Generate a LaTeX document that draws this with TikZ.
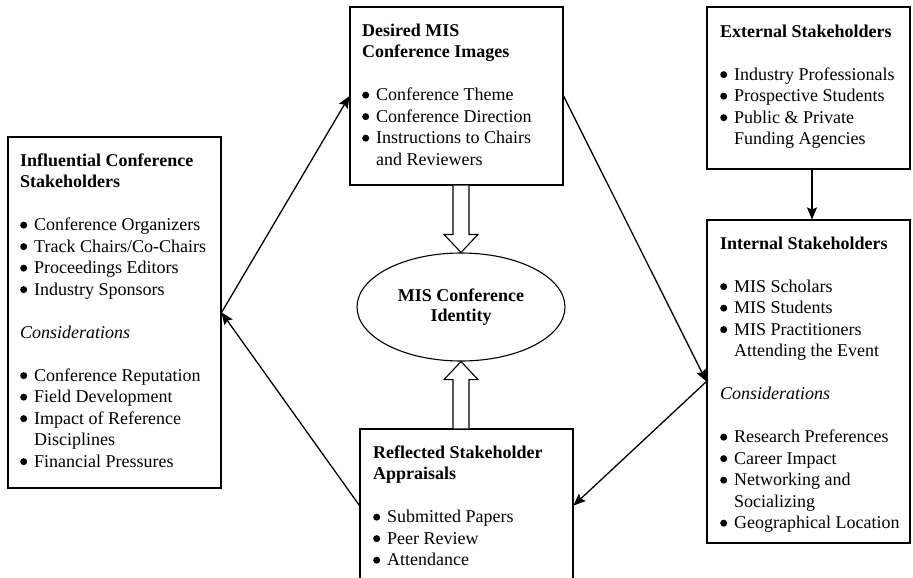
\documentclass[tikz,border=0pt]{standalone}
\usepackage{fontspec}
\setmainfont{Liberation Serif}
\usetikzlibrary{shapes.geometric,arrows.meta,calc}
\newcommand{\bl}{\makebox[10pt][l]{\tikz[baseline=0pt]{\fill (3.6pt,5.6pt) circle (3.5pt);}}}
\tikzset{
  box/.style={draw, line width=1.1pt, minimum width=#1, inner sep=0pt},
  txt/.style={anchor=north west, inner sep=0pt, font=\fontsize{18}{21.5}\selectfont},
  conn/.style={line width=1.3pt, -{Stealth[length=12pt,width=10pt,inset=2pt]}},
  hollow/.style={draw, line width=1.1pt, fill=white, line join=miter}
}
\begin{document}
\begin{tikzpicture}[x=1pt,y=-1pt]
\clip (0,0) rectangle (913,578);
\fill[white] (0,0) rectangle (913,578);
% boxes
\node[box=213pt, minimum height=351pt] (infl) at (114.5,312.5) {};
\node[box=213pt, minimum height=178pt] (des) at (456.5,96) {};
\node[box=203pt, minimum height=162pt] (ext) at (808.5,88) {};
\node[box=203pt, minimum height=323pt] (int) at (808.5,381.5) {};
\node[box=213pt, minimum height=153pt] (ref) at (466.5,505.5) {};
\node[draw, line width=1.1pt, ellipse, minimum width=208pt, minimum height=108pt, inner sep=0pt,
      align=center, font=\fontsize{18}{20.5}\selectfont\bfseries] (ell) at (461,307) {MIS Conference\\Identity};
% texts
\node[txt] (inflt) at (20,151) {\begin{tabular}[t]{@{}l@{\hspace{4pt}}l@{}}
\multicolumn{2}{@{}l@{}}{\bfseries Influential Conference}\\
\multicolumn{2}{@{}l@{}}{\bfseries Stakeholders}\\
 & \\
\bl & Conference Organizers\\
\bl & Track Chairs/Co-Chairs\\
\bl & Proceedings Editors\\
\bl & Industry Sponsors\\
 & \\
\multicolumn{2}{@{}l@{}}{\itshape Considerations}\\
 & \\
\bl & Conference Reputation\\
\bl & Field Development\\
\bl & Impact of Reference\\
 & Disciplines\\
\bl & Financial Pressures
\end{tabular}};
\node[txt] (dest) at (362,21) {\begin{tabular}[t]{@{}l@{\hspace{4pt}}l@{}}
\multicolumn{2}{@{}l@{}}{\bfseries Desired MIS}\\
\multicolumn{2}{@{}l@{}}{\bfseries Conference Images}\\
 & \\
\bl & Conference Theme\\
\bl & Conference Direction\\
\bl & Instructions to Chairs\\
 & and Reviewers
\end{tabular}};
\node[txt] (extt) at (720,22) {\begin{tabular}[t]{@{}l@{\hspace{4pt}}l@{}}
\multicolumn{2}{@{}l@{}}{\bfseries External Stakeholders}\\
 & \\
\bl & Industry Professionals\\
\bl & Prospective Students\\
\bl & Public \& Private\\
 & Funding Agencies
\end{tabular}};
\node[txt] (intt) at (720,234) {\begin{tabular}[t]{@{}l@{\hspace{4pt}}l@{}}
\multicolumn{2}{@{}l@{}}{\bfseries Internal Stakeholders}\\
 & \\
\bl & MIS Scholars\\
\bl & MIS Students\\
\bl & MIS Practitioners\\
 & Attending the Event\\
 & \\
\multicolumn{2}{@{}l@{}}{\itshape Considerations}\\
 & \\
\bl & Research Preferences\\
\bl & Career Impact\\
\bl & Networking and\\
 & Socializing\\
\bl & Geographical Location
\end{tabular}};
\node[txt] (reft) at (373,443) {\begin{tabular}[t]{@{}l@{\hspace{4pt}}l@{}}
\multicolumn{2}{@{}l@{}}{\bfseries Reflected Stakeholder}\\
\multicolumn{2}{@{}l@{}}{\bfseries Appraisals}\\
 & \\
\bl & Submitted Papers\\
\bl & Peer Review\\
\bl & Attendance
\end{tabular}};
% connectors
\draw[conn] (infl.east) -- (des.west);
\draw[conn] (des.east) -- (int.west);
\draw[conn] (int.west) -- (ref.east);
\draw[conn] (ref.west) -- (infl.east);
\draw[conn] (ext.south -| 812,0) -- (int.north -| 812,0);
% hollow arrows
\coordinate (ta) at (ell.north);
\coordinate (tb) at (ell.south);
\draw[hollow] ($(ta |- des.south)+(-8,0)$) -- ($(ta)+(-8,-18)$) -- ($(ta)+(-17,-18)$) -- (ta)
  -- ($(ta)+(17,-18)$) -- ($(ta)+(8,-18)$) -- ($(ta |- des.south)+(8,0)$);
\draw[hollow] ($(tb |- ref.north)+(-8,0)$) -- ($(tb)+(-8,18)$) -- ($(tb)+(-17,18)$) -- (tb)
  -- ($(tb)+(17,18)$) -- ($(tb)+(8,18)$) -- ($(tb |- ref.north)+(8,0)$);
\end{tikzpicture}
\end{document}
